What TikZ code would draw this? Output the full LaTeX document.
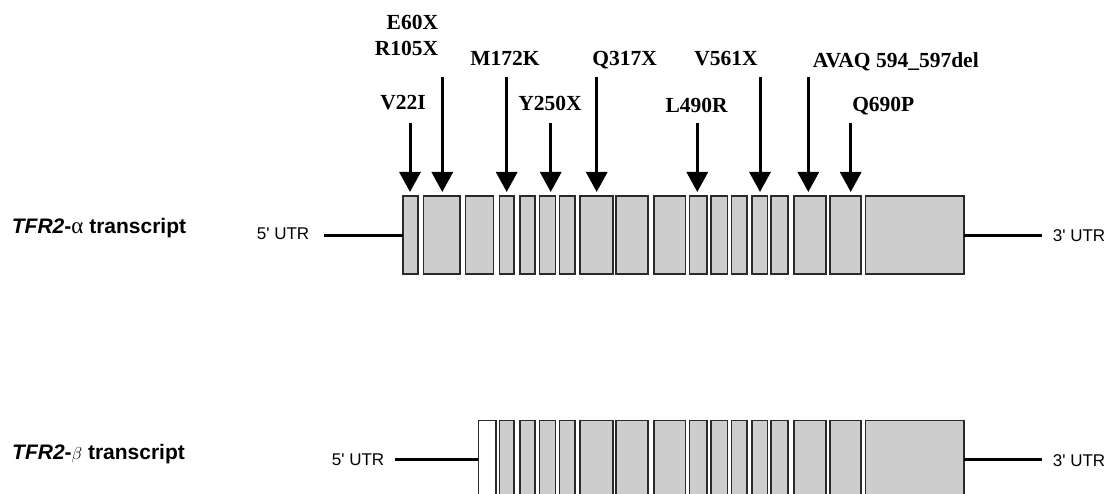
\documentclass[tikz,border=0pt]{standalone}
\usepackage{fontspec}
\setmainfont{Liberation Serif}
\newfontfamily\sansf{Liberation Sans}
\usetikzlibrary{arrows.meta,calc}
\definecolor{exonfill}{HTML}{CDCDCD}
\definecolor{exonline}{HTML}{2A2A2A}
\tikzset{
  exon/.style={draw=exonline, fill=exonfill, line width=1.6pt, inner sep=0pt, outer sep=0pt},
  exonw/.style={draw=exonline, fill=white, line width=1.6pt, inner sep=0pt, outer sep=0pt},
  utrline/.style={draw=black, line width=3pt},
  mut/.style={draw=black, line width=3pt, -{Triangle[width=21pt,length=20pt]}, shorten >=4pt},
  mutlbl/.style={font=\fontsize{21.5}{23}\selectfont\bfseries, inner sep=0pt, anchor=base},
  utrlbl/.style={font=\sansf\fontsize{17}{19}\selectfont, inner sep=0pt, anchor=base west},
  trlbl/.style={font=\sansf\fontsize{21}{23}\selectfont\bfseries, inner sep=0pt, anchor=base west},
}
\begin{document}
\begin{tikzpicture}[x=1pt,y=-1pt]
\clip (0,0) rectangle (1107,494);
\fill[white] (0,0) rectangle (1107,494);
% alpha exons
\foreach \a/\b [count=\i] in {402.7/418,423.3/460,465.3/493.3,499.3/514,520/534.7,539.3/555.3,559.3/574.7,580/612.7,616/648,654/685.3,689.3/706.7,710.7/727.3,731.3/746.7,752/767.3,770.7/788,794/826,830/860.7,865.3/964}
  \node[exon, minimum width={(\b-\a)*1pt}, minimum height=78pt] (ea\i) at ({(\a+\b)/2},235) {};
% beta exons
\node[exonw, minimum width=17.7pt, minimum height=78pt] (eb3) at (487.15,459.3) {};
\foreach \a/\b [count=\j from 4] in {499.3/514,520/534.7,539.3/555.3,559.3/574.7,580/612.7,616/648,654/685.3,689.3/706.7,710.7/727.3,731.3/746.7,752/767.3,770.7/788,794/826,830/860.7,865.3/964}
  \node[exon, minimum width={(\b-\a)*1pt}, minimum height=78pt] (eb\j) at ({(\a+\b)/2},459.3) {};
% UTR lines and labels
\coordinate (l5a) at (324,235.5);
\coordinate (r3a) at (1041.7,235.5);
\coordinate (l5b) at (395,459.3);
\coordinate (r3b) at (1041.7,459.3);
\draw[utrline] (l5a) -- (l5a -| ea1.west);
\draw[utrline] (r3a -| ea18.east) -- (r3a);
\draw[utrline] (l5b) -- (eb3.west);
\draw[utrline] (eb18.east) -- (r3b);
\node[utrlbl] (u5a) at (256.7,240) {5' UTR};
\node[utrlbl] (u3a) at (1052.7,241.7) {3' UTR};
\node[utrlbl] (u5b) at (331.7,465.7) {5' UTR};
\node[utrlbl] (u3b) at (1052.7,466) {3' UTR};
\node[trlbl] (tra) at (11.7,233.3) {\textit{TFR2}-{\rmfamily\mdseries\fontsize{23}{23}\selectfont α} transcript};
\node[trlbl] (trb) at (12,459.3) {\textit{TFR2}-{\fontsize{17}{18}\selectfont$\beta$} transcript};
% mutation labels
\node[mutlbl, anchor=base east] (m1) at (438.3,30) {E60X};
\node[mutlbl, anchor=base east] (m2) at (438.3,56) {R105X};
\node[mutlbl] (m0) at (403,110) {V22I};
\node[mutlbl] (m3) at (505,65.7) {M172K};
\node[mutlbl] (m4) at (550,111) {Y250X};
\node[mutlbl] (m5) at (624.7,65.7) {Q317X};
\node[mutlbl] (m6) at (696.7,113) {L490R};
\node[mutlbl] (m7) at (726,66) {V561X};
\node[mutlbl, anchor=base west] (m8) at (812.7,67.7) {AVAQ 594\_597del};
\node[mutlbl] (m9) at (883.3,111.7) {Q690P};
% arrows
\coordinate (t0) at (410,122.7);
\coordinate (t1) at (442.3,76.7);
\coordinate (t3) at (506.7,76.7);
\coordinate (t4) at (550.7,122.7);
\coordinate (t5) at (596.7,76.7);
\coordinate (t6) at (697.3,122.7);
\coordinate (t7) at (760,76.7);
\coordinate (t8) at (808.3,76.7);
\coordinate (t9) at (850.7,122.7);
\draw[mut] (t0) -- (t0 |- ea1.north);
\draw[mut] (t1) -- (t1 |- ea2.north);
\draw[mut] (t3) -- (t3 |- ea4.north);
\draw[mut] (t4) -- (t4 |- ea6.north);
\draw[mut] (t5) -- (t5 |- ea8.north);
\draw[mut] (t6) -- (t6 |- ea11.north);
\draw[mut] (t7) -- (t7 |- ea14.north);
\draw[mut] (t8) -- (t8 |- ea16.north);
\draw[mut] (t9) -- (t9 |- ea17.north);
\end{tikzpicture}
\end{document}
